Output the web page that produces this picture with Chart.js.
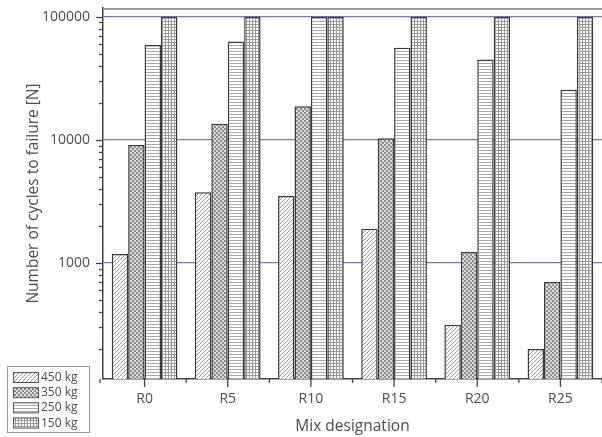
<!DOCTYPE html>
<html>
<head>
<meta charset="utf-8">
<script src="https://cdn.jsdelivr.net/npm/chart.js@4/dist/chart.umd.min.js"></script>
<style>
  html, body { margin: 0; padding: 0; background: #fff; }
  #wrap { width: 602px; height: 437px; position: relative; }
</style>
</head>
<body>
<div id="wrap"><canvas id="chart"></canvas></div>
<script>
const categories = ['R0', 'R5', 'R10', 'R15', 'R20', 'R25'];
const load450 = [1180, 3750, 3500, 1900, 315, 200];
const load350 = [9100, 13500, 18800, 10300, 1230, 700];
const load250 = [59000, 63000, 100000, 56000, 45000, 25500];
const load150 = [100000, 100000, 100000, 100000, 100000, 100000];
const seriesLabels = ['450 kg', '350 kg', '250 kg', '150 kg'];
const yLabelTicks = [1000, 10000, 100000];

const TEXT = '#4d4d4d';
const FONT = '"Open Sans", "Noto Sans", sans-serif';

function makePattern(kind) {
    const c = document.createElement('canvas');
    const g = c.getContext('2d');
    if (kind === 'hatch') {
        c.width = 4; c.height = 4;
        g.fillStyle = '#fff'; g.fillRect(0, 0, 4, 4);
        g.strokeStyle = '#999'; g.lineWidth = 1;
        g.beginPath();
        g.moveTo(0, 4); g.lineTo(4, 0);
        g.moveTo(-1, 1); g.lineTo(1, -1);
        g.moveTo(3, 5); g.lineTo(5, 3);
        g.stroke();
    } else if (kind === 'check') {
        c.width = 4; c.height = 4;
        g.fillStyle = '#fff'; g.fillRect(0, 0, 4, 4);
        g.fillStyle = '#8c8c8c';
        g.fillRect(0, 0, 2, 2); g.fillRect(2, 2, 2, 2);
        g.fillStyle = '#dcdcdc';
        g.fillRect(2, 0, 2, 2); g.fillRect(0, 2, 2, 2);
    } else if (kind === 'hlines') {
        c.width = 3; c.height = 3;
        g.fillStyle = '#fff'; g.fillRect(0, 0, 3, 3);
        g.fillStyle = '#a8a8a8'; g.fillRect(0, 0, 3, 1);
    } else {
        c.width = 3; c.height = 3;
        g.fillStyle = '#fff'; g.fillRect(0, 0, 3, 3);
        g.fillStyle = '#999';
        g.fillRect(0, 0, 3, 1); g.fillRect(0, 0, 1, 3);
    }
    return g.createPattern(c, 'repeat');
}

const patterns = [makePattern('hatch'), makePattern('check'), makePattern('hlines'), makePattern('grid')];

function yTickList() {
    const list = [];
    for (let e = 2; e <= 5; e++) {
        const base = Math.pow(10, e);
        for (let m = 1; m <= 9; m++) {
            const v = m * base;
            if (v >= 200 && v <= 100000) list.push(v);
        }
    }
    return list;
}

const axisMarks = {
    id: 'axisMarks',
    afterDraw(chart) {
        const ctx = chart.ctx;
        const y = chart.scales.y;
        const x = chart.scales.x;
        const area = chart.chartArea;
        ctx.save();
        ctx.strokeStyle = '#444';
        ctx.lineWidth = 1.3;
        y.ticks.forEach(t => {
            const py = Math.round(y.getPixelForValue(t.value)) + 0.5;
            const major = yLabelTicks.includes(t.value);
            ctx.beginPath();
            ctx.moveTo(area.left - (major ? 7 : 4), py);
            ctx.lineTo(area.left, py);
            ctx.stroke();
        });
        const step = x.getPixelForValue(1) - x.getPixelForValue(0);
        categories.forEach((c, i) => {
            const px = x.getPixelForValue(i);
            ctx.beginPath();
            ctx.moveTo(px, area.bottom);
            ctx.lineTo(px, area.bottom + 8);
            ctx.stroke();
            const bx = px + step / 2;
            ctx.beginPath();
            ctx.moveTo(bx, area.bottom);
            ctx.lineTo(bx, area.bottom + 4);
            ctx.stroke();
        });
        ctx.beginPath();
        ctx.moveTo(area.left - 3, area.bottom);
        ctx.lineTo(area.left - 3, area.bottom + 4);
        ctx.stroke();
        // top frame line
        ctx.strokeStyle = '#9a9a9a';
        ctx.lineWidth = 2;
        ctx.beginPath();
        ctx.moveTo(area.left, area.top + 1);
        ctx.lineTo(area.right, area.top + 1);
        ctx.stroke();
        ctx.restore();
    }
};

const boxLegend = {
    id: 'boxLegend',
    afterDraw(chart) {
        const ctx = chart.ctx;
        ctx.save();
        ctx.fillStyle = '#fff';
        ctx.fillRect(7, 366, 82, 66);
        ctx.strokeStyle = '#9a9a9a';
        ctx.lineWidth = 1;
        ctx.strokeRect(7.5, 366.5, 82, 66);
        ctx.font = '12px ' + FONT;
        ctx.textBaseline = 'middle';
        chart.data.datasets.forEach((ds, i) => {
            const cy = 377 + i * 15.2;
            ctx.fillStyle = ds.backgroundColor;
            ctx.fillRect(13, cy - 5, 25, 10);
            ctx.strokeStyle = '#555';
            ctx.strokeRect(13.5, cy - 4.5, 25, 10);
            ctx.fillStyle = TEXT;
            ctx.fillText(ds.label, 41, cy + 0.5);
        });
        ctx.restore();
    }
};

const seriesData = [load450, load350, load250, load150];

new Chart(document.getElementById('chart'), {
    type: 'bar',
    data: {
        labels: categories,
        datasets: seriesData.map((d, i) => ({
            label: seriesLabels[i],
            data: d,
            backgroundColor: patterns[i],
            borderColor: '#3a3a3a',
            borderWidth: 1.5,
            borderSkipped: 'bottom',
            barPercentage: 1,
            categoryPercentage: 0.79,
        })),
    },
    options: {
        responsive: true,
        maintainAspectRatio: false,
        animation: false,
        layout: { padding: { top: 8, right: 0, left: 0, bottom: 0 } },
        plugins: {
            legend: { display: false },
            tooltip: { enabled: false },
        },
        scales: {
            x: {
                grid: { display: false, drawTicks: false },
                border: { color: '#444', width: 1.5 },
                ticks: { color: TEXT, font: { family: FONT, size: 14 }, padding: 12 },
                title: {
                    display: true, text: 'Mix designation', color: TEXT,
                    font: { family: FONT, size: 15.5 }, padding: { top: 1, bottom: 1 },
                },
                afterFit(scale) {
                    scale.height = 58;
                    scale.paddingLeft = 0;
                    scale.paddingRight = 0;
                },
            },
            y: {
                type: 'logarithmic',
                min: 114,
                max: 118000,
                afterBuildTicks(scale) {
                    scale.ticks = yTickList().map(v => ({ value: v }));
                },
                grid: {
                    drawTicks: false,
                    lineWidth: 1.2,
                    color: c => yLabelTicks.includes(c.tick && c.tick.value) ? '#7878b6' : 'rgba(0,0,0,0)',
                },
                border: { color: '#444', width: 1.5 },
                ticks: {
                    color: TEXT,
                    font: { family: FONT, size: 14 },
                    padding: 13,
                    autoSkip: false,
                    callback: v => yLabelTicks.includes(v) ? String(v) : '',
                },
                title: {
                    display: true, text: 'Number of cycles to failure [N]', color: TEXT,
                    font: { family: FONT, size: 15.5 }, padding: { top: 24, bottom: 24 },
                },
                afterFit(scale) {
                    scale.width = 103;
                    scale.paddingTop = 0;
                    scale.paddingBottom = 0;
                },
            },
        },
    },
    plugins: [axisMarks, boxLegend],
});
</script>
</body>
</html>
